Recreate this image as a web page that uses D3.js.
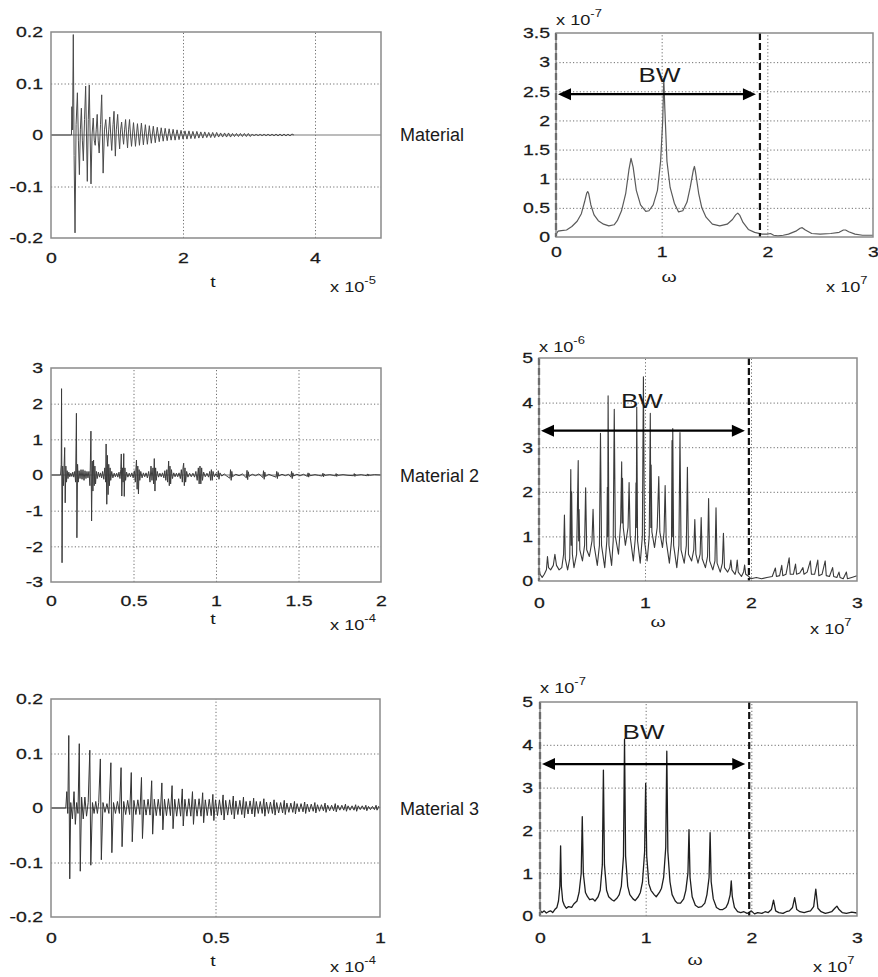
<!DOCTYPE html>
<html><head><meta charset="utf-8">
<script src="https://cdn.jsdelivr.net/npm/d3@7"></script>
<style>
body{margin:0;background:#fff}
svg{display:block}
text{font-family:"Liberation Sans",Arial,sans-serif;fill:#1a1a1a}
</style>
</head><body>
<svg id="c" width="878" height="977"></svg>
<script>
// ---------------- DATA ----------------
const materialLabels = ["Material", "Material 2", "Material 3"];
const timeExponents = ["-5", "-4", "-4"];
const freqExponents = ["-7", "-6", "-7"];
const freqAxisExponent = "7";

const m1TimeTicksX = [0, 2, 4];
const m1TimeTicksY = [-0.2, -0.1, 0, 0.1, 0.2];
const m2TimeTicksX = [0, 0.5, 1, 1.5, 2];
const m2TimeTicksY = [-3, -2, -1, 0, 1, 2, 3];
const m3TimeTicksX = [0, 0.5, 1];
const m3TimeTicksY = [-0.2, -0.1, 0, 0.1, 0.2];
const freqTicksX = [0, 1, 2, 3];
const m1FreqTicksY = [0, 0.5, 1, 1.5, 2, 2.5, 3, 3.5];
const m2FreqTicksY = [0, 1, 2, 3, 4, 5];
const m3FreqTicksY = [0, 1, 2, 3, 4, 5];

const bandwidthEdge = [1.93, 1.98, 1.98];     // x 10^7
const arrowLevel = [2.45, 3.37, 3.55];        // arrow height in each spectrum
const bwLabelAt = [[0.98, 2.66], [0.97, 3.88], [0.98, 4.14]];

// Material 1: time signal (t x 1e-5, amplitude)
const m1Signal = [[0,0],[0.31,0],[0.316,0.055],[0.326,0.01],[0.338,0.195],[0.35,-0.04],[0.364,-0.19],[0.38,0.02],[0.40,0.082],[0.415,-0.01],[0.43,-0.077],[0.445,0.01],[0.46,0.052],[0.475,-0.01],[0.49,-0.05],[0.508,0.03],[0.525,0.095],[0.538,0.0],[0.55,-0.09],[0.565,0.03],[0.58,0.097],[0.593,0.0],[0.606,-0.095],[0.622,0.0],[0.64,0.033],[0.655,-0.01],[0.67,-0.02],[0.685,0.01],[0.70,0.04],[0.715,-0.01],[0.73,-0.035],[0.75,0.02],[0.768,0.078],[0.779,0.0],[0.79,-0.074],[0.81,0.01],[0.83,0.03],[0.845,0.0],[0.86,-0.022],[0.875,0.01],[0.89,0.035],[0.905,0.0],[0.92,-0.03],[0.94,0.02],[0.955,0.046],[0.965,0.0],[0.975,-0.041],[0.99,0.01],[1.01,0.04],[1.025,0.0],[1.04,-0.027],[1.055,0.01],[1.07,0.025],[1.085,0.0],[1.10,-0.018],[1.115,0.01],[1.13,0.03],[1.145,0.0],[1.16,-0.025],[1.175,0.01],[1.19,0.03],[1.205,0.0],[1.22,-0.022],
[1.25,0.024],[1.28,-0.022],[1.31,0.022],[1.34,-0.02],[1.37,0.023],[1.40,-0.019],[1.43,0.02],[1.46,-0.018],[1.49,0.018],[1.52,-0.016],[1.55,0.017],[1.58,-0.015],[1.61,0.015],[1.64,-0.013],[1.67,0.014],[1.70,-0.012],[1.73,0.013],[1.76,-0.011],[1.79,0.012],[1.82,-0.01],[1.85,0.011],[1.88,-0.01],[1.91,0.01],[1.94,-0.009],[1.97,0.009],[2.00,-0.008],[2.03,0.008],[2.06,-0.008],[2.09,0.008],[2.12,-0.007],[2.15,0.007],[2.18,-0.007],[2.21,0.007],[2.24,-0.006],[2.27,0.006],[2.30,-0.006],[2.33,0.006],[2.36,-0.005],[2.39,0.005],[2.42,-0.005],[2.45,0.005],[2.48,-0.005],[2.51,0.005],[2.54,-0.004],[2.57,0.004],[2.60,-0.004],[2.63,0.004],[2.66,-0.004],[2.69,0.004],[2.72,-0.004],[2.75,0.003],[2.78,-0.003],[2.81,0.003],[2.84,-0.003],[2.87,0.003],[2.90,-0.003],[2.93,0.003],[2.96,-0.003],[2.99,0.003],[3.02,-0.003],[3.05,0.002],[3.08,-0.002],[3.11,0.002],[3.14,-0.002],[3.17,0.002],[3.20,-0.002],[3.23,0.002],[3.26,-0.002],[3.29,0.002],[3.32,-0.002],[3.35,0.002],[3.38,-0.002],[3.41,0.002],[3.44,-0.002],[3.47,0.002],[3.50,-0.002],[3.53,0.002],[3.56,-0.002],[3.59,0.002],[3.62,-0.002],[3.65,0.002],[3.68,0]];

// Material 1: spectrum (omega x 1e7, |F| x 1e-7)
const m1Spectrum = [[0,0.05],[0.02,0.1],[0.05,0.11],[0.1,0.12],[0.15,0.18],[0.2,0.27],[0.24,0.4],[0.27,0.6],[0.29,0.75],[0.30,0.78],[0.31,0.74],[0.33,0.55],[0.36,0.38],[0.40,0.28],[0.45,0.22],[0.50,0.19],[0.55,0.21],[0.58,0.28],[0.62,0.45],[0.66,0.75],[0.69,1.15],[0.71,1.35],[0.73,1.2],[0.76,0.8],[0.80,0.55],[0.85,0.44],[0.88,0.45],[0.92,0.55],[0.96,0.8],[0.99,1.3],[1.01,2.0],[1.02,2.72],[1.03,2.2],[1.05,1.3],[1.08,0.85],[1.12,0.58],[1.16,0.43],[1.20,0.45],[1.24,0.6],[1.27,0.85],[1.30,1.15],[1.31,1.21],[1.32,1.12],[1.35,0.75],[1.38,0.5],[1.42,0.34],[1.48,0.22],[1.55,0.19],[1.62,0.22],[1.67,0.3],[1.70,0.38],[1.72,0.41],[1.74,0.37],[1.77,0.25],[1.82,0.13],[1.88,0.08],[1.95,0.05],[2.0,0.05],[2.03,0.06],[2.06,0.03],[2.1,0.02],[2.15,0.03],[2.2,0.05],[2.27,0.1],[2.31,0.15],[2.33,0.16],[2.36,0.12],[2.42,0.06],[2.5,0.05],[2.6,0.06],[2.68,0.08],[2.72,0.12],[2.74,0.12],[2.77,0.09],[2.83,0.05],[2.9,0.03],[3.0,0.03]];

// Material 2: time signal (t x 1e-4)
const m2Signal = [[0,0],[0.058,0],[0.062,0.3],[0.064,2.42],[0.067,-2.46],[0.071,0.25],[0.075,-0.3],[0.079,0.2],[0.083,0.77],[0.086,-0.78],[0.09,0.25],[0.094,-0.2],[0.098,0.12],[0.103,-0.1],[0.108,0.08],[0.114,-0.05],[0.12,0.05],[0.126,-0.04],[0.132,0.08],[0.138,-0.06],[0.144,0.1],[0.149,-0.2],[0.154,1.73],[0.157,-1.76],[0.161,0.3],[0.165,-0.2],[0.17,0.12],[0.176,-0.1],[0.182,0.15],[0.188,-0.12],[0.194,0.15],[0.2,-0.15],[0.206,0.12],[0.212,-0.1],[0.218,0.1],[0.224,-0.08],[0.23,0.1],[0.236,-0.3],[0.242,1.23],[0.246,-1.29],[0.25,0.39],[0.254,-0.45],[0.258,0.42],[0.262,-0.3],[0.266,0.25],[0.27,-0.25],[0.275,0.1],[0.28,-0.1],[0.287,0.08],[0.294,-0.06],[0.30,0.06],[0.307,-0.08],[0.313,0.1],[0.32,-0.12],[0.326,0.2],[0.331,-0.2],[0.334,0.87],[0.338,-0.82],[0.342,0.55],[0.346,-0.55],[0.35,0.3],[0.354,-0.3],[0.358,0.2],[0.362,-0.15],[0.368,0.1],[0.375,-0.08],[0.383,0.05],[0.39,-0.05],[0.398,0.05],[0.405,-0.06],[0.412,0.08],[0.418,-0.1],[0.423,0.15],[0.426,0.59],[0.429,-0.59],[0.433,0.2],[0.437,-0.2],[0.441,0.6],[0.444,-0.6],[0.448,0.2],[0.452,-0.15],[0.458,0.08],[0.466,-0.06],[0.474,0.05],[0.482,-0.05],[0.49,0.06],[0.498,-0.08],[0.505,0.12],[0.511,-0.2],[0.515,0.2],[0.518,0.42],[0.522,-0.4],[0.526,0.25],[0.53,-0.53],[0.534,0.15],[0.538,-0.15],[0.544,0.1],[0.552,-0.08],[0.56,0.06],[0.568,-0.05],[0.576,0.06],[0.584,-0.08],[0.592,0.1],[0.6,-0.2],[0.606,0.25],[0.612,-0.15],[0.618,0.2],[0.622,-0.25],[0.626,0.46],[0.63,-0.45],[0.634,0.2],[0.638,-0.15],[0.644,0.1],[0.652,-0.06],[0.66,0.05],[0.668,-0.05],[0.676,0.06],[0.684,-0.08],[0.69,0.12],[0.696,-0.15],[0.702,0.15],[0.707,-0.2],[0.713,0.39],[0.717,-0.3],[0.721,0.25],[0.725,-0.25],[0.73,0.15],[0.736,-0.1],[0.744,0.06],[0.752,-0.05],[0.76,0.05],[0.768,-0.05],[0.776,0.06],[0.784,-0.1],[0.79,0.15],[0.796,-0.2],[0.8,0.2],[0.804,0.33],[0.808,-0.3],[0.812,0.2],[0.816,-0.2],[0.822,0.1],[0.83,-0.06],[0.84,0.05],[0.85,-0.05],[0.86,0.05],[0.87,-0.06],[0.878,0.1],[0.886,-0.15],[0.893,0.2],[0.898,-0.25],[0.903,0.25],[0.908,-0.25],[0.913,0.2],[0.918,-0.15],[0.925,0.08],[0.935,-0.05],[0.945,0.05],[0.955,-0.06],[0.962,0.1],[0.967,-0.15],[0.972,0.15],[0.977,-0.15],[0.982,0.1],[0.99,-0.05],[1.0,0.04],[1.01,-0.06],[1.014,0.12],[1.018,-0.12],[1.024,0.06],[1.035,-0.03],[1.05,0.03],[1.065,-0.03],
[1.084,-0.09],[1.088,0.15],[1.092,-0.15],[1.096,0.1],[1.1,-0.05],[1.12,0.02],[1.14,-0.02],[1.16,0.03],
[1.184,-0.08],[1.188,0.13],[1.192,-0.13],[1.196,0.09],[1.2,-0.04],[1.22,0.02],[1.24,-0.02],[1.26,0.03],
[1.284,-0.07],[1.288,0.12],[1.292,-0.12],[1.296,0.08],[1.3,-0.04],[1.32,0.02],[1.34,-0.02],
[1.364,-0.06],[1.368,0.1],[1.372,-0.1],[1.376,0.07],[1.38,-0.03],[1.40,0.02],[1.42,-0.02],[1.44,0.02],
[1.454,-0.06],[1.458,0.1],[1.462,-0.1],[1.466,0.06],[1.47,-0.03],[1.49,0.02],[1.51,-0.02],[1.53,0.02],
[1.554,-0.04],[1.558,0.06],[1.562,-0.06],[1.566,0.04],[1.57,-0.02],[1.6,0.01],[1.62,-0.01],
[1.644,-0.03],[1.648,0.05],[1.652,-0.05],[1.656,0.03],[1.66,-0.01],[1.69,0.01],[1.71,-0.01],
[1.724,-0.025],[1.728,0.04],[1.732,-0.04],[1.736,0.02],[1.74,-0.01],[1.77,0.01],[1.80,-0.01],
[1.834,-0.02],[1.838,0.04],[1.842,-0.04],[1.846,0.02],[1.85,-0.01],[1.88,0.01],[1.90,-0.01],
[1.914,-0.02],[1.918,0.03],[1.922,-0.03],[1.926,0.02],[1.93,-0.01],[1.96,0.01],[2.0,0]];

// Material 2: spectrum (omega x 1e7, |F| x 1e-6)
const m2Spectrum = [[0,0.3],[0.01,0.15],[0.03,0.08],[0.05,0.15],[0.07,0.25],[0.08,0.55],[0.09,0.3],[0.11,0.25],[0.135,0.35],[0.15,0.6],[0.165,0.35],[0.19,0.25],[0.215,0.3],[0.232,0.6],[0.24,1.48],[0.248,0.5],[0.27,0.25],[0.29,0.5],[0.30,2.5],[0.304,0.8],[0.308,2.0],[0.315,0.6],[0.33,0.3],[0.355,0.6],[0.37,2.7],[0.374,0.9],[0.378,1.6],[0.385,0.7],[0.41,0.45],[0.43,0.8],[0.44,2.09],[0.45,0.7],[0.475,0.55],[0.50,0.9],[0.51,1.61],[0.52,0.8],[0.55,0.35],[0.57,0.8],[0.58,3.31],[0.59,0.8],[0.62,0.3],[0.64,0.9],[0.645,2.1],[0.648,1.0],[0.652,4.15],[0.66,0.8],[0.685,0.35],[0.70,0.9],[0.71,3.85],[0.72,1.0],[0.75,0.6],[0.77,1.3],[0.78,2.67],[0.784,1.3],[0.788,2.3],[0.795,1.2],[0.815,0.8],[0.84,1.2],[0.85,2.21],[0.86,1.0],[0.89,0.45],[0.91,1.0],[0.915,2.2],[0.918,1.2],[0.922,3.9],[0.93,0.9],[0.955,0.4],[0.975,1.0],[0.985,4.58],[0.995,0.9],[1.02,0.45],[1.04,1.0],[1.05,3.76],[1.055,1.2],[1.058,2.6],[1.065,1.1],[1.09,0.75],[1.115,1.2],[1.13,2.34],[1.14,1.1],[1.165,0.75],[1.18,1.1],[1.19,2.14],[1.20,0.9],[1.23,0.4],[1.25,0.9],[1.255,3.15],[1.258,1.0],[1.262,3.42],[1.27,0.8],[1.30,0.3],[1.32,0.8],[1.33,3.33],[1.34,0.7],[1.37,0.4],[1.39,0.8],[1.40,2.55],[1.41,0.6],[1.44,0.45],[1.46,0.7],[1.47,1.38],[1.48,0.6],[1.50,0.4],[1.52,0.6],[1.53,1.42],[1.54,0.5],[1.57,0.3],[1.59,0.55],[1.60,1.85],[1.61,0.45],[1.64,0.25],[1.66,0.45],[1.67,1.64],[1.68,0.4],[1.71,0.2],[1.73,0.4],[1.74,1.07],[1.75,0.3],[1.78,0.2],[1.80,0.3],[1.81,0.47],[1.82,0.25],[1.85,0.15],[1.86,0.25],[1.87,0.47],[1.88,0.2],[1.91,0.1],[1.93,0.2],[1.94,0.36],[1.95,0.15],[1.98,0.1],[2.0,0.05],[2.05,0.08],[2.1,0.05],[2.15,0.08],[2.2,0.1],[2.23,0.29],[2.24,0.1],[2.27,0.12],[2.29,0.35],[2.30,0.12],[2.33,0.15],[2.36,0.52],[2.37,0.15],[2.40,0.15],[2.42,0.38],[2.43,0.15],[2.46,0.18],[2.49,0.3],[2.50,0.15],[2.53,0.2],[2.56,0.45],[2.57,0.15],[2.60,0.15],[2.63,0.47],[2.64,0.12],[2.67,0.15],[2.70,0.45],[2.71,0.12],[2.74,0.1],[2.77,0.3],[2.78,0.1],[2.81,0.08],[2.83,0.2],[2.84,0.08],[2.87,0.05],[2.90,0.2],[2.91,0.05],[2.95,0.08],[3.0,0.12]];

// Material 3: time signal (t x 1e-4)
const m3Signal = [[0,0],[0.045,0],[0.048,0.03],[0.051,-0.01],[0.054,0.133],[0.057,-0.13],[0.06,0.01],[0.065,-0.02],[0.07,0.03],[0.074,-0.03],[0.078,0.01],[0.082,-0.01],[0.086,0.118],[0.089,-0.116],[0.093,0.02],[0.098,-0.02],[0.103,0.02],[0.108,-0.015],[0.113,0.01],[0.118,0.106],[0.121,-0.105],[0.126,0.01],[0.131,-0.01],[0.136,0.012],[0.141,-0.01],[0.145,0.01],[0.150,0.09],[0.153,-0.095],[0.158,0.01],[0.164,-0.008],[0.17,0.008],[0.176,-0.01],[0.182,0.083],[0.185,-0.082],[0.19,0.01],[0.196,-0.01],[0.202,0.012],[0.208,-0.01],[0.213,0.074],[0.216,-0.071],[0.221,0.012],[0.227,-0.012],[0.233,0.014],[0.239,-0.012],[0.244,0.065],[0.247,-0.062],[0.252,0.014],[0.258,-0.012],[0.264,0.015],[0.27,-0.012],[0.275,0.056],[0.278,-0.056],[0.283,0.015],[0.289,-0.013],[0.295,0.016],[0.301,-0.013],[0.306,0.05],[0.309,-0.048],[0.314,0.016],[0.32,-0.014],[0.326,0.016],[0.332,-0.014],[0.337,0.046],[0.34,-0.04],[0.345,0.016],[0.351,-0.014],[0.357,0.017],[0.363,-0.014],[0.368,0.041],[0.371,-0.038],[0.376,0.016],[0.382,-0.015],[0.388,0.017],[0.394,-0.015],[0.399,0.035],[0.402,-0.033],[0.407,0.016],[0.413,-0.015],[0.419,0.017],[0.425,-0.015],[0.43,0.03],[0.433,-0.03],[0.438,0.016],[0.444,-0.015],[0.45,0.017],[0.456,-0.015],[0.461,0.028],[0.464,-0.027],[0.469,0.015],[0.475,-0.014],[0.481,0.016],[0.487,-0.014],[0.492,0.025],[0.495,-0.023],[0.5,0.015],[0.506,-0.014],[0.512,0.015],[0.518,-0.013],[0.523,0.024],[0.526,-0.022],[0.531,0.014],[0.537,-0.013],[0.543,0.015],[0.549,-0.012],[0.554,0.022],[0.557,-0.02],[0.562,0.013],[0.568,-0.012],[0.574,0.014],[0.58,-0.012],[0.585,0.02],[0.588,-0.018],[0.593,0.012],[0.599,-0.011],[0.605,0.013],[0.611,-0.011],[0.616,0.018],[0.619,-0.016],[0.624,0.012],[0.63,-0.01],[0.636,0.012],[0.642,-0.01],[0.647,0.017],[0.65,-0.015],[0.655,0.011],[0.661,-0.01],[0.667,0.011],[0.673,-0.01],[0.678,0.015],[0.681,-0.013],[0.686,0.01],[0.692,-0.009],[0.698,0.01],[0.704,-0.009],[0.709,0.014],[0.712,-0.012],[0.717,0.009],[0.723,-0.008],[0.729,0.009],[0.735,-0.008],[0.74,0.012],[0.743,-0.011],[0.748,0.008],[0.754,-0.007],[0.76,0.008],[0.766,-0.007],[0.771,0.011],[0.774,-0.01],[0.779,0.007],[0.785,-0.007],[0.791,0.007],[0.797,-0.006],[0.802,0.01],[0.805,-0.009],[0.81,0.006],[0.816,-0.006],[0.822,0.006],[0.828,-0.005],[0.833,0.009],[0.836,-0.008],[0.841,0.005],[0.847,-0.005],[0.853,0.005],[0.859,-0.005],[0.864,0.008],[0.867,-0.007],[0.872,0.005],[0.878,-0.004],[0.884,0.005],[0.89,-0.004],[0.895,0.007],[0.898,-0.006],[0.903,0.004],[0.909,-0.004],[0.915,0.004],[0.921,-0.004],[0.926,0.006],[0.929,-0.006],[0.934,0.004],[0.94,-0.003],[0.946,0.004],[0.952,-0.003],[0.957,0.005],[0.96,-0.005],[0.965,0.003],[0.971,-0.003],[0.977,0.003],[0.983,-0.003],[0.988,0.005],[0.991,-0.004],[0.996,0.003],[1.0,0]];

// Material 3: spectrum (omega x 1e7, |F| x 1e-7)
const m3Spectrum = [[0,0.3],[0.005,0.12],[0.02,0.08],[0.04,0.12],[0.06,0.07],[0.08,0.1],[0.1,0.12],[0.12,0.08],[0.14,0.15],[0.16,0.2],[0.175,0.35],[0.188,0.7],[0.195,1.64],[0.202,0.7],[0.215,0.35],[0.23,0.25],[0.25,0.18],[0.27,0.22],[0.3,0.2],[0.32,0.28],[0.35,0.35],[0.37,0.55],[0.39,1.0],[0.40,2.32],[0.41,1.0],[0.43,0.55],[0.45,0.45],[0.47,0.38],[0.5,0.4],[0.52,0.35],[0.55,0.45],[0.57,0.6],[0.59,1.2],[0.60,3.41],[0.61,1.2],[0.63,0.6],[0.65,0.45],[0.68,0.38],[0.7,0.35],[0.73,0.42],[0.75,0.5],[0.77,0.7],[0.79,1.4],[0.80,4.13],[0.81,1.4],[0.83,0.7],[0.85,0.5],[0.88,0.4],[0.9,0.36],[0.93,0.45],[0.95,0.55],[0.97,0.8],[0.99,1.5],[1.0,3.1],[1.01,1.4],[1.03,0.75],[1.05,0.6],[1.08,0.5],[1.1,0.45],[1.13,0.55],[1.15,0.65],[1.17,0.9],[1.19,1.6],[1.20,3.85],[1.21,1.5],[1.23,0.8],[1.25,0.5],[1.28,0.35],[1.3,0.3],[1.33,0.3],[1.36,0.4],[1.38,0.6],[1.40,1.0],[1.41,2.02],[1.42,0.9],[1.44,0.45],[1.47,0.25],[1.5,0.2],[1.53,0.22],[1.56,0.3],[1.58,0.5],[1.60,0.9],[1.61,1.95],[1.62,0.8],[1.64,0.4],[1.67,0.2],[1.7,0.15],[1.73,0.15],[1.76,0.2],[1.78,0.3],[1.80,0.5],[1.81,0.82],[1.82,0.45],[1.84,0.2],[1.87,0.1],[1.9,0.08],[1.93,0.1],[1.96,0.06],[2.0,0.12],[2.03,0.05],[2.06,0.08],[2.1,0.06],[2.13,0.1],[2.16,0.08],[2.19,0.15],[2.21,0.37],[2.23,0.12],[2.26,0.08],[2.3,0.06],[2.33,0.1],[2.36,0.12],[2.39,0.2],[2.41,0.43],[2.43,0.15],[2.46,0.1],[2.5,0.08],[2.53,0.1],[2.56,0.12],[2.59,0.22],[2.61,0.63],[2.63,0.18],[2.66,0.1],[2.7,0.06],[2.73,0.08],[2.76,0.1],[2.79,0.18],[2.81,0.23],[2.83,0.15],[2.86,0.08],[2.9,0.06],[2.95,0.09],[3.0,0.07]];

// ---------------- DRAWING ----------------
const SX = 1.3;           // horizontal stretch of the original figure's lettering
const FS = 15;
const svg = d3.select("#c");

function mult(x, y, exp) {
  const g = svg.append("g").attr("transform", `translate(${x},${y}) scale(${SX},1)`);
  const t = g.append("text").attr("font-size", 14);
  t.append("tspan").text("x 10");
  t.append("tspan").attr("dy", -8).attr("font-size", 10).text(exp);
}
function label(x, y, str, opts = {}) {
  const g = svg.append("g").attr("transform", `translate(${x},${y}) scale(${opts.sx || SX},1)`);
  return g.append("text").attr("text-anchor", opts.anchor || "middle")
    .attr("font-size", opts.size || FS)
    .attr("font-family", opts.family || null)
    .text(str);
}

function panel(c) {
  const x = d3.scaleLinear().domain(c.xd).range([c.x0, c.x1]);
  const y = d3.scaleLinear().domain(c.yd).range([c.y1, c.y0]);
  const g = svg.append("g");
  const w = c.x1 - c.x0, h = c.y1 - c.y0;

  // grid
  const innerX = c.xt.filter(v => v > c.xd[0] && v < c.xd[1]);
  const innerY = c.yt.filter(v => v > c.yd[0] && v < c.yd[1] && !(c.zero && v === 0));
  g.append("g").attr("transform", `translate(0,${c.y1})`)
    .call(d3.axisBottom(x).tickValues(innerX).tickSize(-h).tickFormat(""))
    .call(s => { s.select(".domain").remove(); s.selectAll("line").attr("stroke", "#6f6f6f").attr("stroke-dasharray", "1.2,2.2"); });
  g.append("g").attr("transform", `translate(${c.x0},0)`)
    .call(d3.axisLeft(y).tickValues(innerY).tickSize(-w).tickFormat(""))
    .call(s => { s.select(".domain").remove(); s.selectAll("line").attr("stroke", "#6f6f6f").attr("stroke-dasharray", "1.2,2.2"); });

  if (c.zero) {
    g.append("line").attr("x1", c.x0).attr("x2", c.x1).attr("y1", y(0)).attr("y2", y(0))
      .attr("stroke", "#7a7a7a").attr("stroke-width", 1.2);
  }

  // data
  g.append("path").datum(c.data)
    .attr("d", d3.line().x(d => x(d[0])).y(d => y(d[1])))
    .attr("fill", "none").attr("stroke", c.color).attr("stroke-width", c.sw || 1)
    .attr("stroke-linejoin", "round");

  // bandwidth
  if (c.bw !== undefined) {
    [0, c.bw].forEach(v => {
      g.append("line").attr("x1", x(v)).attr("x2", x(v)).attr("y1", c.y0).attr("y2", c.y1)
        .attr("stroke", "#111").attr("stroke-width", 2.2).attr("stroke-dasharray", "7,3");
    });
    const ay = y(c.arrowY), ax0 = x(0) + 2, ax1 = x(c.bw) - 4;
    g.append("line").attr("x1", ax0 + 10).attr("x2", ax1 - 10).attr("y1", ay).attr("y2", ay)
      .attr("stroke", "#000").attr("stroke-width", 2.2);
    g.append("path").attr("d", `M${ax0},${ay} L${ax0 + 13},${ay - 6} L${ax0 + 13},${ay + 6} Z`).attr("fill", "#000");
    g.append("path").attr("d", `M${ax1},${ay} L${ax1 - 13},${ay - 6} L${ax1 - 13},${ay + 6} Z`).attr("fill", "#000");
    label(x(c.bwLabel[0]), y(c.bwLabel[1]), "BW", { size: 20 }).attr("fill", "#000");
  }

  // box
  g.append("rect").attr("x", c.x0).attr("y", c.y0).attr("width", w).attr("height", h)
    .attr("fill", "none").attr("stroke", "#8a8a8a").attr("stroke-width", 1.5);

  // tick labels
  const fmt = v => String(v);
  g.append("g").attr("transform", `translate(0,${c.y1})`)
    .call(d3.axisBottom(x).tickValues(c.xt).tickSize(0).tickPadding(c.xPad).tickFormat(fmt))
    .call(s => { s.select(".domain").remove();
      s.selectAll("text").attr("font-size", FS).attr("font-family", null).attr("fill", "#1a1a1a")
        .attr("stroke", "#1a1a1a").attr("stroke-width", 0.25)
        .attr("transform", `scale(${SX},1)`); });
  g.append("g").attr("transform", `translate(${c.x0},0)`)
    .call(d3.axisLeft(y).tickValues(c.yt).tickSize(0).tickPadding(c.yPad).tickFormat(fmt))
    .call(s => { s.select(".domain").remove();
      s.selectAll("text").attr("font-size", FS).attr("font-family", null).attr("fill", "#1a1a1a")
        .attr("stroke", "#1a1a1a").attr("stroke-width", 0.25)
        .attr("x", -c.yPad / SX).attr("transform", `scale(${SX},1)`); });
  return { x, y };
}

// Material 1
panel({ x0: 51, x1: 381, y0: 32, y1: 238, xd: [0, 5], yd: [-0.2, 0.2], xt: m1TimeTicksX, yt: m1TimeTicksY,
  data: m1Signal, color: "#4a4a4a", zero: true, xPad: 14, yPad: 8 });
label(213, 287, "t", { size: 15 });
mult(330, 292, timeExponents[0]);

panel({ x0: 556, x1: 873, y0: 33, y1: 237, xd: [0, 3], yd: [0, 3.5], xt: freqTicksX, yt: m1FreqTicksY,
  data: m1Spectrum, color: "#5a5a5a", sw: 1.2, xPad: 9, yPad: 6,
  bw: bandwidthEdge[0], arrowY: arrowLevel[0], bwLabel: bwLabelAt[0] });
label(669, 282, "ω", { size: 15, family: "Liberation Serif" });
mult(826, 292, freqAxisExponent);
mult(556, 25, freqExponents[0]);

// Material 2
panel({ x0: 51, x1: 381, y0: 368, y1: 582, xd: [0, 2], yd: [-3, 3], xt: m2TimeTicksX, yt: m2TimeTicksY,
  data: m2Signal, color: "#3c3c3c", zero: true, xPad: 13, yPad: 8 });
label(213, 624, "t", { size: 15 });
mult(330, 630, timeExponents[1]);

panel({ x0: 539, x1: 857, y0: 358, y1: 581, xd: [0, 3], yd: [0, 5], xt: freqTicksX, yt: m2FreqTicksY,
  data: m2Spectrum, color: "#3a3a3a", sw: 1.1, xPad: 16, yPad: 6,
  bw: bandwidthEdge[1], arrowY: arrowLevel[1], bwLabel: bwLabelAt[1] });
label(658, 627, "ω", { size: 15, family: "Liberation Serif" });
mult(810, 634, freqAxisExponent);
mult(539, 352, freqExponents[1]);

// Material 3
panel({ x0: 51, x1: 380, y0: 699, y1: 917, xd: [0, 1], yd: [-0.2, 0.2], xt: m3TimeTicksX, yt: m3TimeTicksY,
  data: m3Signal, color: "#333", zero: true, xPad: 15, yPad: 8 });
label(213, 966, "t", { size: 15 });
mult(330, 972, timeExponents[2]);

panel({ x0: 540, x1: 857, y0: 702, y1: 916, xd: [0, 3], yd: [0, 5], xt: freqTicksX, yt: m3FreqTicksY,
  data: m3Spectrum, color: "#1e1e1e", sw: 1.3, xPad: 16, yPad: 7,
  bw: bandwidthEdge[2], arrowY: arrowLevel[2], bwLabel: bwLabelAt[2] });
label(695, 965, "ω", { size: 15, family: "Liberation Serif" });
mult(813, 972, freqAxisExponent);
mult(540, 693, freqExponents[2]);

// material names
const nameY = [141, 482, 815];
materialLabels.forEach((s, i) => label(400, nameY[i], s, { anchor: "start", size: 18, sx: 1.0 }).attr("fill", "#111"));
</script>
</body></html>
